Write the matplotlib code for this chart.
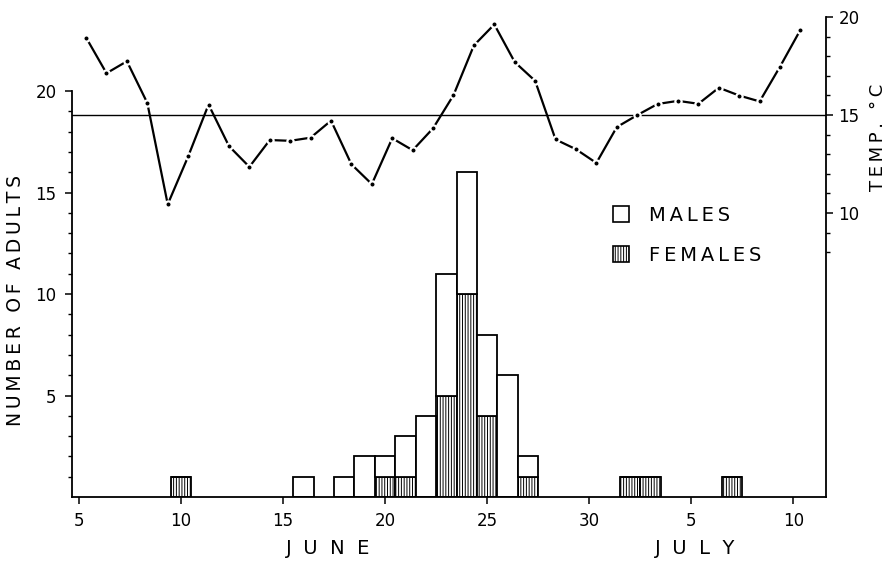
import numpy as np
import matplotlib
matplotlib.use("Agg")
import matplotlib.pyplot as plt
from matplotlib.patches import Patch
from matplotlib.transforms import blended_transform_factory

# day numbers counted from 1 June (July 5 -> 35)
bar_days = [10, 16, 18, 19, 20, 21, 22, 23, 24, 25, 26, 27, 32, 33, 37]
females = [1, 0, 0, 0, 1, 1, 0, 5, 10, 4, 0, 1, 1, 1, 1]
males = [0, 1, 1, 2, 1, 2, 4, 6, 6, 4, 6, 1, 0, 0, 0]

temp_days = list(range(5, 41))
temps = [18.95, 17.13, 17.74, 15.61, 10.44, 12.88, 15.53, 13.41, 12.35, 13.72,
         13.68, 13.84, 14.71, 12.48, 11.47, 13.81, 13.2, 14.32, 16.01, 18.55,
         19.62, 17.7, 16.74, 13.75, 13.25, 12.55, 14.38, 14.99, 15.56, 15.72,
         15.57, 16.39, 15.99, 15.69, 17.47, 19.35]

xtick_pos = [5, 10, 15, 20, 25, 30, 35, 40]
xtick_labels = ["5", "10", "15", "20", "25", "30", "5", "10"]

THIN = "\u2009"


def spaced(s, sep=THIN):
    return sep.join(s)


plt.rcParams['font.family'] = ['DejaVu Sans']
plt.rcParams['hatch.linewidth'] = 0.7

fig = plt.figure(figsize=(8.93, 5.61), dpi=100)
ax = fig.add_axes([72 / 893, 1 - 497 / 561, (826 - 72) / 893, (497 - 17) / 561])
ax2 = ax.twinx()

# bars: females hatched at the bottom, males open on top
fem = np.array(females)
mal = np.array(males)
ax.bar(bar_days, fem, width=1.0, bottom=0, color="white", edgecolor="black",
       hatch="||||||", linewidth=1.3, zorder=2)
ax.bar(bar_days, mal, width=1.0, bottom=fem, color="white", edgecolor="black",
       linewidth=1.3, zorder=2)

ax.set_xlim(4.66, 41.6)
ax.set_ylim(0, 23.65)
ax.spines['top'].set_visible(False)
ax.spines['right'].set_visible(False)
ax.spines['left'].set_bounds(0, 20)
ax.spines['left'].set_linewidth(1.3)
ax.spines['bottom'].set_linewidth(1.3)

ax.set_xticks(xtick_pos)
ax.set_xticklabels(xtick_labels, fontsize=12)
ax.set_yticks([5, 10, 15, 20])
ax.set_yticklabels(["5", "10", "15", "20"], fontsize=12)
ax.set_yticks([v for v in range(1, 20) if v % 5], minor=True)
ax.tick_params(axis='both', which='major', direction='out', length=5, width=1.1, pad=6)
ax.tick_params(axis='y', which='minor', direction='out', length=3, width=1.0)

ax.set_ylabel(spaced("NUMBER OF ADULTS"), fontsize=13.5)
ax.yaxis.set_label_coords(-0.062, 0.41)

# temperature
ax2.set_ylim(-4.5, 20)
for s in ['top', 'left', 'bottom']:
    ax2.spines[s].set_visible(False)
ax2.spines['right'].set_linewidth(1.3)
ax2.set_yticks([10, 15, 20])
ax2.set_yticklabels(["10", "15", "20"], fontsize=12)
ax2.set_yticks([v for v in range(8, 20) if v % 5], minor=True)
ax2.tick_params(axis='y', which='major', direction='out', length=5, width=1.1, pad=4)
ax2.tick_params(axis='y', which='minor', direction='out', length=3, width=1.0)
ax2.axhline(15, color="black", linewidth=1.0, zorder=1)
ax2.plot(np.array(temp_days) + 0.35, temps, color="black", linewidth=1.6,
         marker="o", markersize=4.5, markerfacecolor="black",
         markeredgecolor="white", markeredgewidth=1.6, zorder=3)
ax2.set_ylabel(spaced("TEMP. °C"), fontsize=13, rotation=90)
ax2.yaxis.set_label_coords(1.057, 0.75)

# month labels
trans = blended_transform_factory(ax.transData, fig.transFigure)
ax.text(17.2, 1 - 548 / 561, "J  U  N  E", transform=trans, fontsize=14,
        ha="center", va="center")
ax.text(35.2, 1 - 548 / 561, "J  U  L  Y", transform=trans, fontsize=14,
        ha="center", va="center")

# legend
handles = [Patch(facecolor="white", edgecolor="black", linewidth=1.2),
           Patch(facecolor="white", edgecolor="black", linewidth=1.2, hatch="||||||")]
ax.legend(handles, [spaced("MALES"), spaced("FEMALES")], loc="upper left",
          bbox_to_anchor=(0.717, 0.607), frameon=False, fontsize=14,
          handlelength=0.85, handleheight=0.9, handletextpad=1.0,
          labelspacing=1.1, borderpad=0, borderaxespad=0)

fig.savefig("out.png", dpi=100)
